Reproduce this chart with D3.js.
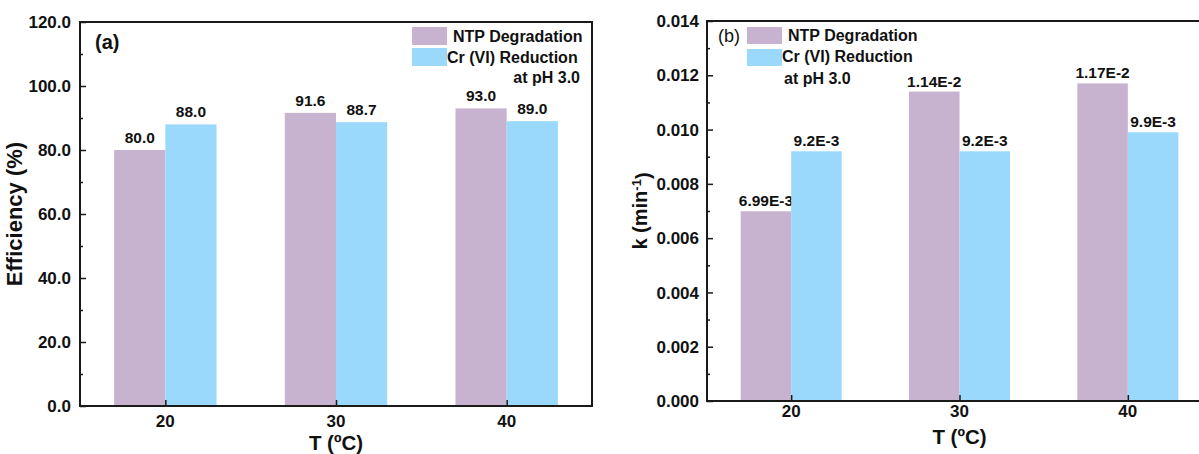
<!DOCTYPE html>
<html><head><meta charset="utf-8">
<script src="https://cdn.jsdelivr.net/npm/d3@7"></script>
<style>
html,body{margin:0;padding:0;background:#fff;}
svg{display:block;font-family:"Liberation Sans",Arial,sans-serif;}
</style></head>
<body>
<svg id="chart" width="1199" height="454"></svg>
<script>
// ---- data ----
const categories = [20, 30, 40];
const seriesNames = ["NTP Degradation", "Cr (VI) Reduction"];
const effNTP = [80.0, 91.6, 93.0];
const effCr = [88.0, 88.7, 89.0];
const effLabelsNTP = ["80.0", "91.6", "93.0"];
const effLabelsCr = ["88.0", "88.7", "89.0"];
const kNTP = [0.00699, 0.0114, 0.0117];
const kCr = [0.0092, 0.0092, 0.0099];
const kLabelsNTP = ["6.99E-3", "1.14E-2", "1.17E-2"];
const kLabelsCr = ["9.2E-3", "9.2E-3", "9.9E-3"];
const effTicks = [0, 20, 40, 60, 80, 100, 120];
const kTicks = [0, 0.002, 0.004, 0.006, 0.008, 0.010, 0.012, 0.014];
const colors = ["#c7b3cf", "#9ad8fc"];

const svg = d3.select("#chart");
const frameColor = "#1a1a1a";

function panel(opt) {
  const g = svg.append("g");
  const x = d3.scaleLinear().domain([15, 45]).range([opt.x0, opt.x1]);
  const y = d3.scaleLinear().domain(opt.yDomain).range([opt.y1, opt.y0]);
  const halfW = 3;
  const series = [opt.a, opt.b];
  series.forEach((vals, si) => {
    g.selectAll(null).data(vals).enter().append("rect")
      .attr("x", (d, i) => si === 0 ? x(categories[i] - halfW) : x(categories[i]))
      .attr("width", x(15 + halfW) - x(15))
      .attr("y", d => y(d))
      .attr("height", d => y(0) - y(d))
      .attr("fill", colors[si]);
    const labs = si === 0 ? opt.la : opt.lb;
    g.selectAll(null).data(vals).enter().append("text")
      .attr("x", (d, i) => si === 0 ? x(categories[i] - halfW / 2) : x(categories[i] + halfW / 2))
      .attr("y", d => y(d) - opt.labGap)
      .attr("text-anchor", "middle")
      .attr("font-size", 15.5).attr("font-weight", "bold").attr("fill", "#111")
      .text((d, i) => labs[i]);
  });
  const yAxis = d3.axisRight(y).tickValues(opt.yTicks).tickSize(6).tickFormat("");
  const ya = g.append("g").attr("transform", `translate(${opt.x0},0)`).call(yAxis);
  ya.select(".domain").remove();
  ya.selectAll("line").attr("stroke", frameColor).attr("stroke-width", 1.5);
  const minor = [];
  for (let i = 0; i < opt.yTicks.length - 1; i++) minor.push((opt.yTicks[i] + opt.yTicks[i + 1]) / 2);
  const ym = g.append("g").attr("transform", `translate(${opt.x0},0)`)
    .call(d3.axisRight(y).tickValues(minor).tickSize(3).tickFormat(""));
  ym.select(".domain").remove();
  ym.selectAll("line").attr("stroke", frameColor).attr("stroke-width", 1.5);
  g.selectAll(null).data(opt.yTicks).enter().append("text")
    .attr("x", opt.x0 - opt.tickLabGap).attr("y", d => y(d)).attr("dy", "0.36em")
    .attr("text-anchor", "end").attr("font-size", opt.tickFont).attr("font-weight", "bold").attr("fill", "#111")
    .text(d => opt.fmt(d));
  const xa = g.append("g").attr("transform", `translate(0,${opt.y1})`)
    .call(d3.axisTop(x).tickValues(categories).tickSize(6).tickFormat(""));
  xa.select(".domain").remove();
  xa.selectAll("line").attr("stroke", frameColor).attr("stroke-width", 1.5);
  g.selectAll(null).data(categories).enter().append("text")
    .attr("x", d => x(d)).attr("y", opt.xLabY)
    .attr("text-anchor", "middle").attr("font-size", 17).attr("font-weight", "bold").attr("fill", "#111")
    .text(d => d);
  g.append("rect").attr("x", opt.x0).attr("y", opt.y0)
    .attr("width", opt.x1 - opt.x0).attr("height", opt.y1 - opt.y0)
    .attr("fill", "none").attr("stroke", frameColor).attr("stroke-width", 2);
  g.append("text").attr("x", (opt.x0 + opt.x1) / 2).attr("y", opt.xTitleY)
    .attr("text-anchor", "middle").attr("font-size", 20.5).attr("font-weight", "bold").attr("fill", "#111")
    .text("T (\u00baC)");
  return {g, x, y};
}

// Panel (a)
const pa = panel({x0: 80, x1: 592, y0: 22, y1: 406, yDomain: [0, 120], yTicks: effTicks,
  a: effNTP, b: effCr, la: effLabelsNTP, lb: effLabelsCr, labGap: 7,
  fmt: d3.format(".1f"), tickFont: 17, tickLabGap: 9, xLabY: 427, xTitleY: 450});
pa.g.append("text").attr("transform", "translate(22,214) rotate(-90)")
  .attr("text-anchor", "middle").attr("font-size", 22).attr("font-weight", "bold").attr("fill", "#111")
  .text("Efficiency (%)");
pa.g.append("text").attr("x", 95).attr("y", 49).attr("font-size", 20).attr("font-weight", "bold").attr("fill", "#111").text("(a)");
pa.g.append("rect").attr("x", 412).attr("y", 27).attr("width", 35).attr("height", 18).attr("fill", colors[0]);
pa.g.append("rect").attr("x", 412).attr("y", 48).attr("width", 35).attr("height", 18).attr("fill", colors[1]);
pa.g.append("text").attr("x", 453).attr("y", 42).attr("font-size", 16).attr("font-weight", "bold").attr("fill", "#111").text(seriesNames[0]);
pa.g.append("text").attr("x", 447).attr("y", 63).attr("font-size", 16).attr("font-weight", "bold").attr("fill", "#111").text(seriesNames[1]);
pa.g.append("text").attr("x", 580).attr("y", 83).attr("text-anchor", "end").attr("font-size", 16).attr("font-weight", "bold").attr("fill", "#111").text("at pH 3.0");

// Panel (b)
const pb = panel({x0: 707, x1: 1212, y0: 21, y1: 401, yDomain: [0, 0.014], yTicks: kTicks,
  a: kNTP, b: kCr, la: kLabelsNTP, lb: kLabelsCr, labGap: 5,
  fmt: d3.format(".3f"), tickFont: 17, tickLabGap: 8, xLabY: 417, xTitleY: 444});
const kl = pb.g.append("text").attr("transform", "translate(647,211) rotate(-90)")
  .attr("text-anchor", "middle").attr("font-size", 20).attr("font-weight", "bold").attr("fill", "#111");
kl.append("tspan").text("k (min");
kl.append("tspan").attr("dy", "-0.45em").attr("font-size", 13).text("-1");
kl.append("tspan").attr("dy", "0.45em").text(")");
pb.g.append("text").attr("x", 718).attr("y", 42).attr("font-size", 18).attr("fill", "#111").text("(b)");
pb.g.append("rect").attr("x", 747).attr("y", 27).attr("width", 35).attr("height", 17).attr("fill", colors[0]);
pb.g.append("rect").attr("x", 747).attr("y", 49).attr("width", 35).attr("height", 17).attr("fill", colors[1]);
pb.g.append("text").attr("x", 788).attr("y", 41).attr("font-size", 16).attr("font-weight", "bold").attr("fill", "#111").text(seriesNames[0]);
pb.g.append("text").attr("x", 782).attr("y", 62).attr("font-size", 16).attr("font-weight", "bold").attr("fill", "#111").text(seriesNames[1]);
pb.g.append("text").attr("x", 784).attr("y", 84).attr("font-size", 16).attr("font-weight", "bold").attr("fill", "#111").text("at pH 3.0");
</script>
</body></html>
